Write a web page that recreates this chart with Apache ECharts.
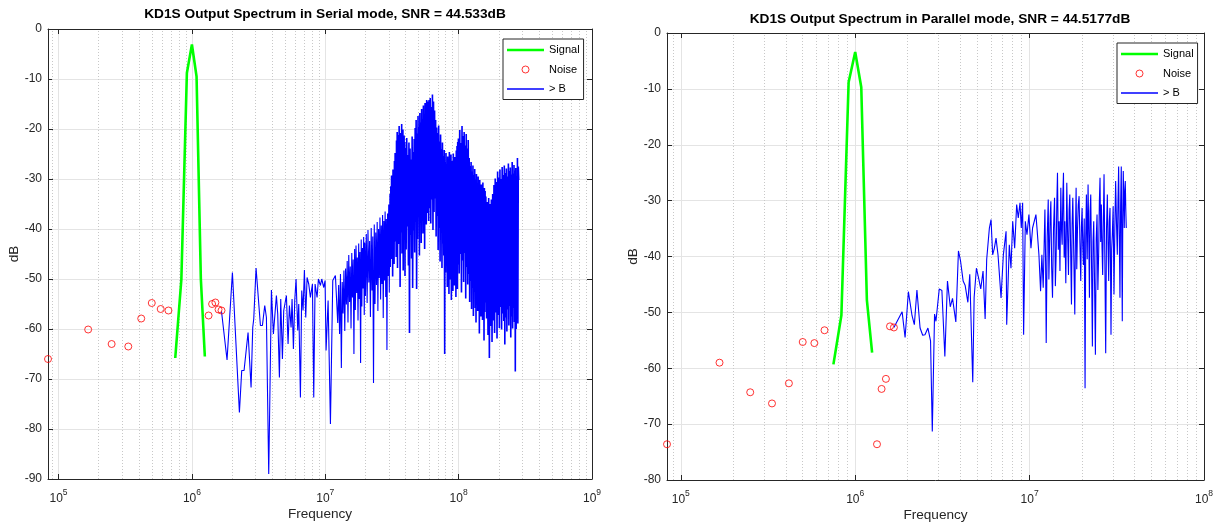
<!DOCTYPE html>
<html>
<head>
<meta charset="utf-8">
<title>KD1S Output Spectrum</title>
<script src="https://cdn.jsdelivr.net/npm/echarts@6/dist/echarts.min.js"></script>
<style>
  html, body {margin: 0; padding: 0; background: #fff;}
  #chart {width: 1220px; height: 522px;}
</style>
</head>
<body>
<div id="chart"></div>
<script>
// frequencies in MHz, levels in dB
var noiseFreq = [0.083333, 0.1667, 0.25, 0.3333, 0.4167, 0.5, 0.5833, 0.6667, 1.3333, 1.4167, 1.5, 1.5833, 1.6667]
var signalFreq = [0.75, 0.8333, 0.9167, 1.0, 1.0833, 1.1667, 1.25]

var serialNoise = [-66.0, -60.1, -63.0, -63.5, -57.9, -54.8, -56.0, -56.3, -57.3, -55.0, -54.7, -56.1, -56.3]
var serialSignal = [-65.8, -50.1, -8.8, -3.1, -9.5, -50.0, -65.5]

var parallelNoise = [-73.6, -59.0, -64.3, -66.3, -62.7, -55.3, -55.5, -53.2, -73.6, -63.7, -61.9, -52.5, -52.7]
var parallelSignal = [-59.3, -50.5, -8.8, -3.4, -9.7, -47.8, -57.2]

// [MHz, dB] of the "> B" trace, serial mode
var serialAboveB = [
  [1.667, -56.5], [1.834, -66.2], [2.012, -48.7], [2.270, -76.7], [2.363, -68.3], [2.460, -68.3], [2.636, -60.7],
  [2.698, -60.7], [2.777, -71.7], [2.858, -59.7], [2.908, -58.0], [3.027, -47.8], [3.263, -59.3], [3.378, -59.3],
  [3.516, -55.3], [3.619, -57.7], [3.767, -89.0], [3.945, -52.2], [4.083, -61.0], [4.300, -53.3], [4.400, -57.0],
  [4.529, -69.7], [4.634, -54.0], [4.770, -66.0], [4.881, -56.3], [5.111, -53.3], [5.260, -63.0], [5.383, -55.3],
  [5.540, -59.7], [5.636, -54.0], [5.768, -64.0], [5.902, -54.3], [6.039, -50.0], [6.215, -60.3], [6.324, -55.0],
  [6.509, -73.7], [6.660, -52.3], [6.815, -56.3], [6.974, -48.2], [7.137, -57.7], [7.303, -49.7], [7.516, -51.0],
  [7.736, -53.7], [8.008, -51.0], [8.194, -73.7], [8.385, -51.0], [8.680, -53.7], [8.882, -50.0], [9.194, -51.3],
  [9.408, -50.0], [9.739, -51.7], [9.965, -50.3], [10.14, -64.3], [10.50, -54.3], [10.93, -79.0], [11.38, -50.3],
  [11.91, -49.3],
  [12.2, -49.5], [12.4, -58.8], [12.6, -51.2], [12.8, -61.0], [13.0, -49.0], [13.2, -67.8], [13.4, -50.6],
  [13.6, -56.9], [13.8, -48.3], [14.0, -60.4], [14.2, -47.9], [14.4, -55.1], [14.6, -46.4], [14.8, -58.7],
  [15.0, -45.2], [15.2, -54.6], [15.4, -47.5], [15.6, -59.9], [15.8, -44.8], [16.0, -53.7], [16.2, -46.1],
  [16.4, -65.0], [16.6, -44.0], [16.8, -56.2], [17.0, -43.3], [17.2, -52.8], [17.4, -45.7], [17.6, -58.3],
  [17.8, -42.9], [18.0, -54.0], [18.2, -44.6], [18.4, -66.8], [18.6, -42.1], [18.8, -55.5], [19.0, -43.8],
  [19.2, -51.9], [19.4, -41.6], [19.6, -57.2], [19.8, -42.7], [20.0, -53.4],
  [20.3, -41.0], [20.6, -54.8], [20.9, -40.2], [21.2, -50.7], [21.5, -42.4], [21.8, -57.6], [22.1, -39.8],
  [22.4, -52.3], [22.7, -41.5], [23.0, -70.8], [23.3, -39.1], [23.6, -55.0], [23.9, -40.7], [24.2, -51.2],
  [24.5, -38.6], [24.8, -56.4], [25.1, -40.0], [25.4, -49.8], [25.7, -37.7], [26.0, -54.1], [26.3, -39.3],
  [26.6, -51.0], [26.9, -37.2], [27.2, -57.8], [27.5, -38.4], [27.8, -50.3], [28.1, -36.5], [28.4, -53.6],
  [28.7, -38.0], [29.0, -64.2], [29.3, -36.9], [29.6, -49.4], [29.9, -35.1], [30.2, -52.7], [30.5, -33.0],
  [30.8, -47.6],
  [31.0, -31.5], [31.2, -46.0], [31.4, -29.3], [31.6, -43.8], [31.8, -34.0], [32.0, -49.5], [32.2, -28.1],
  [32.4, -40.2], [32.6, -30.7], [32.8, -47.0], [33.0, -26.4], [33.2, -42.5], [33.4, -24.8], [33.6, -38.9],
  [33.8, -27.9], [34.0, -45.6], [34.2, -22.3], [34.4, -39.4], [34.6, -20.6], [34.8, -47.8], [35.0, -23.7],
  [35.2, -36.1], [35.4, -21.2], [35.6, -43.0], [35.8, -19.4], [36.0, -38.2], [36.2, -24.4], [36.4, -51.6],
  [36.6, -20.8], [36.8, -40.7], [37.0, -22.9], [37.2, -35.8], [37.4, -19.0], [37.6, -44.9], [37.8, -23.2],
  [38.0, -38.5], [38.2, -20.1], [38.4, -48.3], [38.6, -24.6], [38.8, -36.9], [39.0, -21.3], [39.2, -42.1],
  [39.4, -22.6], [39.6, -49.4], [39.8, -23.8],
  [40.0, -24.0], [40.4, -44.1], [40.8, -21.8], [41.2, -39.5], [41.6, -25.2], [42.0, -47.3], [42.4, -22.7],
  [42.8, -60.8], [43.2, -23.9], [43.6, -41.2], [44.0, -26.1], [44.4, -45.9], [44.8, -21.5], [45.2, -51.8],
  [45.6, -24.6], [46.0, -40.3], [46.4, -22.0], [46.8, -44.7], [47.2, -19.8], [47.6, -38.6], [48.0, -18.2],
  [48.4, -52.0], [48.8, -20.9], [49.2, -42.0], [49.6, -17.4], [50.0, -36.5], [50.4, -19.6], [50.8, -45.3],
  [51.2, -16.8], [51.6, -38.0], [52.0, -18.7], [52.4, -42.8], [52.8, -16.0], [53.2, -35.4], [53.6, -18.1],
  [54.0, -40.9], [54.4, -15.3], [54.8, -37.2], [55.2, -17.5], [55.6, -44.0], [56.0, -14.8], [56.4, -34.6],
  [56.8, -16.4], [57.2, -39.1], [57.6, -14.2], [58.0, -36.8], [58.4, -15.9], [58.8, -33.7], [59.2, -14.5],
  [59.6, -38.4],
  [60.0, -14.2], [60.6, -35.8], [61.2, -13.8], [61.8, -38.9], [62.4, -15.6], [63.0, -34.1], [63.6, -13.1],
  [64.2, -40.2], [64.8, -14.5], [65.4, -36.6], [66.0, -16.3], [66.6, -33.9], [67.2, -18.2], [67.8, -41.5],
  [68.4, -19.7], [69.0, -37.4], [69.6, -20.8], [70.2, -44.2], [70.8, -19.3], [71.4, -39.8], [72.0, -22.5],
  [72.6, -46.5], [73.2, -21.1], [73.8, -40.6], [74.4, -24.0], [75.0, -47.8], [75.6, -22.7], [76.2, -42.9],
  [76.8, -25.4], [77.4, -45.3], [78.0, -24.2], [78.6, -65.0], [79.2, -26.6], [79.8, -48.7], [80.4, -24.8],
  [81.0, -44.9], [81.6, -27.0], [82.2, -51.6], [82.8, -25.5], [83.4, -46.2], [84.0, -26.9], [84.6, -53.0],
  [85.2, -24.6], [85.8, -47.7], [86.4, -27.3], [87.0, -50.1], [87.6, -25.1], [88.2, -54.2], [88.8, -26.4],
  [89.4, -46.8], [90.0, -27.1], [90.6, -52.4], [91.2, -24.9], [91.8, -48.9], [92.4, -26.2], [93.0, -51.3],
  [93.6, -25.6], [94.2, -47.4], [94.8, -26.8], [95.4, -53.6], [96.0, -24.3], [96.6, -49.2], [97.2, -23.4],
  [97.8, -52.0], [98.4, -22.6], [99.0, -47.1], [99.6, -21.9],
  [100, -21.5], [101, -48.9], [102, -20.2], [103, -45.0], [104, -22.8], [105, -52.7], [106, -19.4],
  [107, -46.3], [108, -21.4], [109, -50.6], [110, -20.6], [111, -44.8], [112, -23.3], [113, -53.9],
  [114, -21.0], [115, -47.6], [116, -23.9], [117, -51.1], [118, -22.2], [119, -49.0], [120, -25.8],
  [121, -54.6], [122, -27.4], [123, -50.4], [124, -26.6], [125, -56.0], [126, -28.5], [127, -51.8],
  [128, -27.3], [129, -57.4], [130, -29.2], [131, -52.5], [132, -28.0], [133, -55.8], [134, -30.1],
  [135, -58.7], [136, -29.0], [137, -53.2], [138, -30.8], [139, -56.4], [140, -29.5], [141, -52.0],
  [142, -31.4], [143, -60.9], [144, -30.2], [145, -54.3], [146, -32.0], [147, -57.5], [148, -31.1],
  [149, -53.9], [150, -32.6], [151, -58.2], [152, -30.7], [153, -55.0], [154, -33.0], [155, -62.3],
  [156, -31.8], [157, -56.6], [158, -32.4], [159, -54.7],
  [160, -33.5], [162, -57.9], [164, -34.6], [166, -61.2], [168, -33.8], [170, -65.8], [172, -35.0],
  [174, -59.4], [176, -34.1], [178, -62.6], [180, -33.0], [182, -58.3], [184, -31.2], [186, -60.8],
  [188, -29.9], [190, -56.7], [192, -30.6], [194, -61.9], [196, -28.5], [198, -57.2], [200, -29.7],
  [202, -59.8], [204, -28.1], [206, -55.6], [208, -30.0], [210, -60.1], [212, -27.6], [214, -56.9],
  [216, -29.2], [218, -58.4], [220, -27.3], [222, -63.1], [224, -28.8], [226, -57.7], [228, -27.9],
  [230, -60.5], [232, -29.5], [234, -56.1], [236, -26.9], [238, -59.3], [240, -28.4], [242, -55.4],
  [244, -27.7], [246, -61.7], [248, -29.1], [250, -57.5], [252, -26.6], [254, -59.9], [256, -28.9],
  [258, -55.8], [260, -27.2], [262, -58.6], [264, -28.3], [266, -68.5], [268, -27.8], [270, -60.0],
  [272, -29.4], [274, -56.3], [276, -25.8], [278, -58.9], [280, -27.5], [282, -30.2]
]

// [MHz, dB] of the "> B" trace, parallel mode
var parallelAboveB = [
  [1.667, -52.7], [1.858, -49.9], [1.932, -54.5], [2.018, -46.3], [2.118, -50.6], [2.183, -52.2], [2.259, -46.0],
  [2.355, -52.8], [2.438, -54.1], [2.512, -54.0], [2.612, -52.8], [2.704, -55.1], [2.767, -71.3], [2.851, -50.3],
  [2.904, -51.6], [3.034, -45.8], [3.141, -46.1], [3.266, -57.9], [3.381, -44.4], [3.508, -49.0], [3.614, -47.5],
  [3.776, -51.7], [3.908, -39.0], [4.018, -40.8], [4.159, -44.4], [4.272, -45.2], [4.426, -48.2], [4.539, -43.2],
  [4.721, -62.5], [4.808, -47.3], [4.955, -42.1], [5.093, -43.8], [5.248, -45.8], [5.408, -42.6], [5.559, -51.2],
  [5.675, -40.5], [5.781, -40.2],
  [5.88, -34.9], [6.01, -33.4], [6.14, -39.7], [6.28, -38.5], [6.42, -36.7], [6.59, -39.7], [6.86, -47.4],
  [7.07, -39.7], [7.33, -35.5], [7.39, -52.2], [7.65, -37.9], [7.82, -42.1], [8.00, -33.7], [8.21, -38.5],
  [8.43, -30.7], [8.61, -33.1], [8.81, -30.4], [8.96, -34.9], [9.12, -30.4], [9.24, -54.0], [9.45, -33.7],
  [9.66, -36.1], [9.91, -32.5], [10.18, -38.5], [10.40, -34.9], [10.87, -32.5], [11.06, -35.5], [11.31, -39.7],
  [11.56, -46.2], [11.76, -39.7], [11.97, -45.6],
  [12.24, -31.6], [12.35, -40.8], [12.45, -55.5], [12.62, -36.4], [12.79, -29.8], [12.90, -44.1], [13.01, -38.5],
  [13.12, -33.0], [13.24, -30.1], [13.38, -41.9], [13.53, -47.4], [13.71, -35.2], [13.90, -29.5], [14.05, -45.3],
  [14.20, -39.7], [14.32, -30.6], [14.45, -25.0], [14.61, -38.8], [14.77, -33.7], [14.93, -42.6], [15.10, -27.7],
  [15.23, -35.0], [15.37, -37.9], [15.50, -29.4], [15.64, -25.0], [15.78, -40.2], [15.92, -33.7], [16.13, -44.8],
  [16.34, -26.8], [16.52, -36.1], [16.71, -43.3], [16.85, -31.7], [17.00, -28.9], [17.19, -38.6], [17.38, -48.6],
  [17.53, -34.2], [17.69, -29.5], [17.92, -39.8], [18.16, -50.4], [18.32, -35.9], [18.48, -27.7], [18.64, -42.3],
  [18.81, -35.5], [19.01, -30.8], [19.22, -29.2], [19.43, -37.5], [19.65, -44.4], [19.82, -34.7], [20.00, -31.3],
  [20.17, -38.0], [20.35, -41.5], [20.57, -33.2], [20.80, -63.6], [20.98, -36.7], [21.17, -28.9], [21.40, -40.5],
  [21.64, -27.1], [21.83, -35.6], [22.03, -47.4], [22.22, -32.0], [22.42, -28.9], [22.66, -41.7], [22.91, -56.1],
  [23.11, -37.3], [23.32, -33.7], [23.58, -44.9], [23.84, -57.6], [24.10, -36.8], [24.36, -32.5], [24.63, -46.0],
  [24.90, -39.1], [25.12, -30.2], [25.34, -25.9], [25.56, -37.4], [25.79, -30.7], [26.01, -38.3], [26.24, -43.3],
  [26.48, -33.5], [26.72, -25.3], [27.01, -40.7], [27.31, -57.3], [27.61, -35.1], [27.91, -28.9], [28.16, -37.9],
  [28.41, -44.4], [28.66, -33.6], [28.91, -31.3], [29.10, -41.2], [29.29, -54.0], [29.55, -38.7], [29.81, -36.1],
  [30.14, -31.0], [30.47, -46.8], [30.80, -35.5], [31.14, -26.5], [31.49, -33.9], [31.84, -39.7], [32.12, -30.3],
  [32.40, -23.9], [32.68, -36.2], [32.97, -47.4], [33.26, -30.8], [33.55, -23.9], [33.78, -39.5], [34.00, -51.6],
  [34.22, -33.0], [34.44, -24.7], [34.67, -29.6], [34.90, -34.9], [35.13, -28.2], [35.37, -26.5], [35.60, -31.4],
  [35.83, -34.9]
]

var fontFamily = '"Liberation Sans", Arial, Helvetica, sans-serif'
var axisColor = '#262626'

function toHz (freq, db) {
  return freq.map(function (f, i) { return [f * 1e6, db[i]] })
}
function pairsToHz (list) {
  return list.map(function (p) { return [p[0] * 1e6, p[1]] })
}

// dotted minor grid at 2..9 x 10^n
function minorLines (maxExp) {
  var out = [{xAxis: 9e4}]
  for (var e = 5; e < maxExp; e++) {
    for (var k = 2; k <= 9; k++) out.push({xAxis: k * Math.pow(10, e)})
  }
  return out
}

function powLabel (v) {
  var p = Math.log10(v)
  var r = Math.round(p)
  if (Math.abs(p - r) > 1e-6) return ''
  return '{b|10}{e|' + r + '}'
}

var boxAxisLine = {show: true, onZero: false, lineStyle: {color: axisColor, width: 1}}
var boxTick = {show: true, inside: true, length: 5, lineStyle: {color: axisColor}}

function xAxes (gi, max) {
  return [{
    type: 'log', logBase: 10, gridIndex: gi, min: 83333, max: max,
    name: 'Frequency', nameLocation: 'middle', nameGap: 28, nameMoveOverlap: false,
    nameTextStyle: {fontSize: 13.6, color: axisColor, fontFamily: fontFamily},
    axisLine: boxAxisLine,
    axisTick: boxTick,
    axisLabel: {
      formatter: powLabel, margin: 9, color: axisColor, fontFamily: fontFamily,
      rich: {
        b: {fontSize: 12, color: axisColor, fontFamily: fontFamily, lineHeight: 17, verticalAlign: 'bottom'},
        e: {fontSize: 8.5, color: axisColor, fontFamily: fontFamily, lineHeight: 10, verticalAlign: 'top'}
      }
    },
    splitLine: {show: true, lineStyle: {color: '#e4e4e4', width: 1}}
  }, {
    type: 'log', logBase: 10, gridIndex: gi, min: 83333, max: max, position: 'top',
    axisLine: boxAxisLine,
    axisTick: boxTick,
    axisLabel: {show: false},
    splitLine: {show: false}
  }]
}

function yAxes (gi, min) {
  return [{
    type: 'value', gridIndex: gi, min: min, max: 0, interval: 10,
    name: 'dB', nameLocation: 'middle', nameGap: 27, nameRotate: 90,
    nameTextStyle: {fontSize: 13.6, color: axisColor, fontFamily: fontFamily},
    axisLine: boxAxisLine,
    axisTick: boxTick,
    axisLabel: {fontSize: 12, color: axisColor, fontFamily: fontFamily, margin: 6},
    splitLine: {show: true, lineStyle: {color: '#e4e4e4', width: 1}}
  }, {
    type: 'value', gridIndex: gi, min: min, max: 0, interval: 10, position: 'right',
    axisLine: boxAxisLine,
    axisTick: boxTick,
    axisLabel: {show: false},
    splitLine: {show: false}
  }]
}

// denseFrom (MHz): above this the original trace holds many FFT bins per pixel,
// so that stretch is drawn with a heavier stroke to read as the solid band
function plotSeries (gi, maxExp, signal, noise, above, denseFrom) {
  var xi = gi * 2
  var yi = gi * 2
  var sparse = above.filter(function (p) { return p[0] <= denseFrom })
  var dense = above.filter(function (p) { return p[0] >= sparse[sparse.length - 1][0] })
  var list = [{
    type: 'line', xAxisIndex: xi, yAxisIndex: yi, data: [], silent: true, z: 1,
    markLine: {
      silent: true, animation: false, z: 1, symbol: ['none', 'none'], label: {show: false},
      lineStyle: {type: [1, 2], color: '#c8c8c8', width: 1},
      data: minorLines(maxExp)
    }
  }, {
    name: '> B', type: 'line', xAxisIndex: xi, yAxisIndex: yi, data: pairsToHz(sparse),
    symbol: 'none', lineStyle: {color: '#0000ff', width: 1.1}, itemStyle: {color: '#0000ff'}, z: 3
  }]
  if (dense.length > 1) {
    list.push({
      name: '> B', type: 'line', xAxisIndex: xi, yAxisIndex: yi, data: pairsToHz(dense),
      symbol: 'none', lineStyle: {color: '#0000ff', width: 1.6}, itemStyle: {color: '#0000ff'}, z: 3
    })
  }
  list.push({
    name: 'Signal', type: 'line', xAxisIndex: xi, yAxisIndex: yi, data: toHz(signalFreq, signal),
    symbol: 'none', lineStyle: {color: '#00ff00', width: 2.6}, itemStyle: {color: '#00ff00'}, z: 4
  }, {
    name: 'Noise', type: 'scatter', xAxisIndex: xi, yAxisIndex: yi, data: toHz(noiseFreq, noise),
    symbol: 'circle', symbolSize: 7, clip: false,
    itemStyle: {color: 'rgba(255,255,255,0)', borderColor: '#ff0000', borderWidth: 1}, z: 5
  })
  return list
}

function legendBox (left, top) {
  return {
    data: [
      {name: 'Signal', icon: 'path://M0,0H37V2.6H0Z'},
      {name: 'Noise', icon: 'circle', itemStyle: {color: 'rgba(255,255,255,0)', borderColor: '#ff0000', borderWidth: 1}},
      {name: '> B', icon: 'path://M0,0H37V1.3H0Z'}
    ],
    orient: 'vertical', left: left, top: top,
    itemWidth: 37, itemHeight: 7, itemGap: 8.5, padding: [5.5, 4, 5, 4],
    borderColor: axisColor, borderWidth: 1, backgroundColor: '#fff', borderRadius: 0,
    selectedMode: false,
    textStyle: {fontSize: 11, color: '#000', fontFamily: fontFamily}
  }
}

var option = {
  backgroundColor: '#fff',
  animation: false,
  title: [{
    text: 'KD1S Output Spectrum in Serial mode, SNR = 44.533dB',
    left: 320, top: 2, textAlign: 'center',
    textStyle: {fontSize: 13.7, fontWeight: 'bold', color: '#000', fontFamily: fontFamily}
  }, {
    text: 'KD1S Output Spectrum in Parallel mode, SNR = 44.5177dB',
    left: 935, top: 7, textAlign: 'center',
    textStyle: {fontSize: 13.7, fontWeight: 'bold', color: '#000', fontFamily: fontFamily}
  }],
  legend: [legendBox(503, 39), legendBox(1117, 43)],
  grid: [
    {left: 48, top: 29, width: 544, height: 450, outerBoundsMode: 'none', containLabel: false},
    {left: 667, top: 33, width: 537, height: 447, outerBoundsMode: 'none', containLabel: false}
  ],
  xAxis: xAxes(0, 1e9).concat(xAxes(1, 1e8)),
  yAxis: yAxes(0, -90).concat(yAxes(1, -80)),
  series: plotSeries(0, 9, serialSignal, serialNoise, serialAboveB, 31)
    .concat(plotSeries(1, 8, parallelSignal, parallelNoise, parallelAboveB, 1000))
}

var chart = echarts.init(document.getElementById('chart'))
chart.setOption(option)
</script>
</body>
</html>
